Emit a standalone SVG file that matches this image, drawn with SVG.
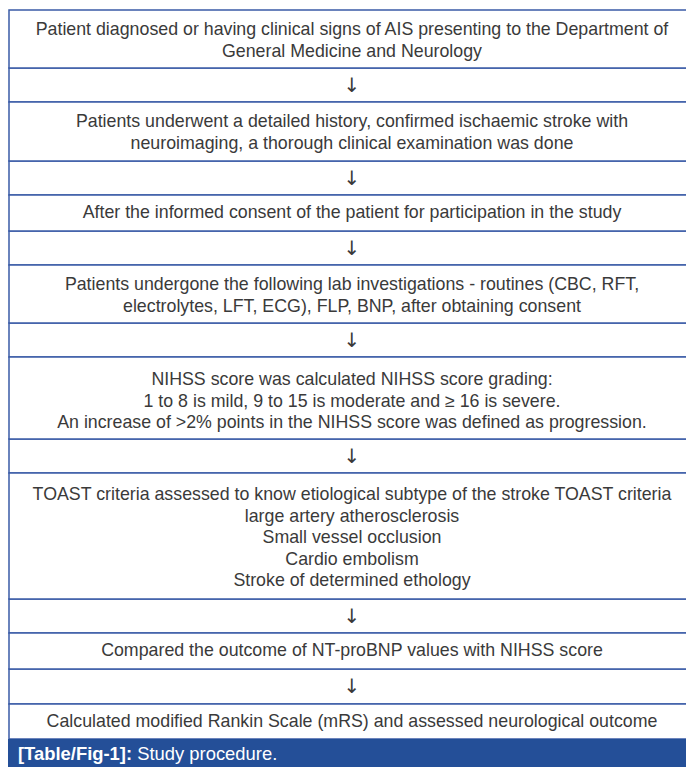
<svg xmlns="http://www.w3.org/2000/svg" width="686" height="767" viewBox="0 0 686 767">
<style>
.box{fill:#fff;stroke:#3a5ba6;stroke-width:1.5}
.t{font-family:"Liberation Sans",Arial,sans-serif;font-size:17.8px;fill:#3a3a3a;text-anchor:middle}
.arr{font-family:"DejaVu Sans",sans-serif;font-size:20px;fill:#3a3a3a;text-anchor:middle}
.cap{font-family:"Liberation Sans",Arial,sans-serif;font-size:18.4px;fill:#fff}
</style>
<rect width="686" height="767" fill="#fff"/>
<g id="connectors">
<rect class="box" x="9" y="68" width="700" height="34"/>
<text class="arr" x="352" y="92">↓</text>
<rect class="box" x="9" y="161" width="700" height="34"/>
<text class="arr" x="352" y="185">↓</text>
<rect class="box" x="9" y="231" width="700" height="34"/>
<text class="arr" x="352" y="255">↓</text>
<rect class="box" x="9" y="323" width="700" height="34"/>
<text class="arr" x="352" y="347">↓</text>
<rect class="box" x="9" y="439" width="700" height="34"/>
<text class="arr" x="352" y="463">↓</text>
<rect class="box" x="9" y="599" width="700" height="34"/>
<text class="arr" x="352" y="623">↓</text>
<rect class="box" x="9" y="669" width="700" height="35"/>
<text class="arr" x="352" y="693">↓</text>
</g>
<g id="n1">
<rect class="box" x="9" y="10" width="700" height="58"/>
<text class="t" x="352" y="35">Patient diagnosed or having clinical signs of AIS presenting to the Department of</text>
<text class="t" x="352" y="57">General Medicine and Neurology</text>
</g>
<g id="n2">
<rect class="box" x="9" y="102" width="700" height="59"/>
<text class="t" x="352" y="127">Patients underwent a detailed history, confirmed ischaemic stroke with</text>
<text class="t" x="352" y="149">neuroimaging, a thorough clinical examination was done</text>
</g>
<g id="n3">
<rect class="box" x="9" y="195" width="700" height="36"/>
<text class="t" x="352" y="218">After the informed consent of the patient for participation in the study</text>
</g>
<g id="n4">
<rect class="box" x="9" y="265" width="700" height="58"/>
<text class="t" x="352" y="290">Patients undergone the following lab investigations - routines (CBC, RFT,</text>
<text class="t" x="352" y="312">electrolytes, LFT, ECG), FLP, BNP, after obtaining consent</text>
</g>
<g id="n5">
<rect class="box" x="9" y="357" width="700" height="82"/>
<text class="t" x="352" y="385">NIHSS score was calculated NIHSS score grading:</text>
<text class="t" x="352" y="407">1 to 8 is mild, 9 to 15 is moderate and ≥ 16 is severe.</text>
<text class="t" x="352" y="428">An increase of &gt;2% points in the NIHSS score was defined as progression.</text>
</g>
<g id="n6">
<rect class="box" x="9" y="473" width="700" height="126"/>
<text class="t" x="352" y="500">TOAST criteria assessed to know etiological subtype of the stroke TOAST criteria</text>
<text class="t" x="352" y="521.5">large artery atherosclerosis</text>
<text class="t" x="352" y="543">Small vessel occlusion</text>
<text class="t" x="352" y="564.5">Cardio embolism</text>
<text class="t" x="352" y="586">Stroke of determined ethology</text>
</g>
<g id="n7">
<rect class="box" x="9" y="633" width="700" height="36"/>
<text class="t" x="352" y="656">Compared the outcome of NT-proBNP values with NIHSS score</text>
</g>
<g id="n8">
<rect class="box" x="9" y="704" width="700" height="35"/>
<text class="t" x="352" y="727">Calculated modified Rankin Scale (mRS) and assessed neurological outcome</text>
</g>
<g id="caption">
<rect x="8" y="739" width="678" height="28" fill="#244f98"/>
<text class="cap" x="18" y="760"><tspan font-weight="bold">[Table/Fig-1]:</tspan> Study procedure.</text>
</g>
</svg>
